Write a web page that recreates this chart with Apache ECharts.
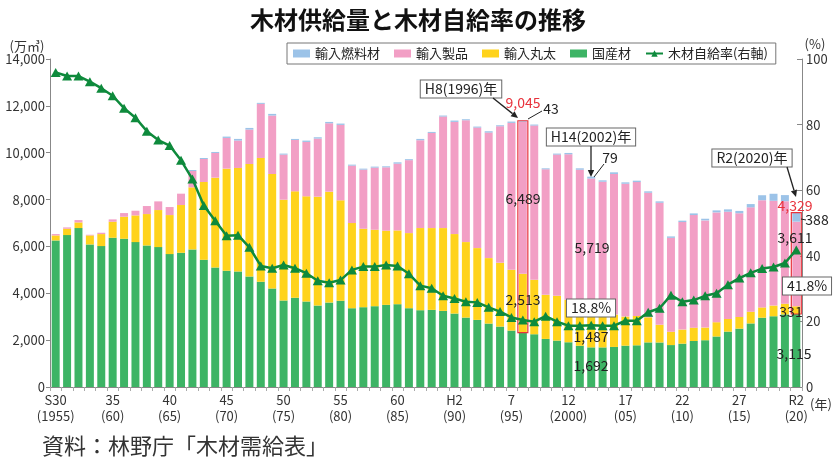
<!DOCTYPE html>
<html><head><meta charset="utf-8">
<script src="https://cdn.jsdelivr.net/npm/echarts@6/dist/echarts.min.js"></script>
<style>html,body{margin:0;padding:0;background:#fff}#c{width:836px;height:462px}</style>
</head><body><div id="c"></div>
<script>
// ---- data (万m3, %) ----
const years = [];
for (let y = 1955; y <= 2020; y++) years.push(String(y));

const domestic = [6256,6484,6783,6085,6014,6370,6327,6184,6042,5971,
  5672,5729,5871,5429,5102,4959,4931,4717,4489,4204,
  3691,3805,3648,3477,3605,3677,3363,3406,3449,3506,
  3534,3363,3278,3292,3249,3135,2964,2864,2708,2579,
  2408,2320,2252,2052,1981,1910,1760,1692,1690,1710,
  1765,1780,1904,1900,1790,1850,1964,1997,2156,2365,
  2492,2714,2958,3020,3099,3115];
const importLogs = [214,271,242,385,513,684,940,1140,1340,1582,
  1667,2038,2651,3320,3833,4361,4418,4802,5287,4888,
  4304,4546,4489,4646,4731,4289,3634,3349,3263,3164,
  3149,3206,3506,3491,3534,3392,3221,3064,2793,2722,
  2594,2513,2323,1881,1910,1810,1600,1487,1400,1380,
  1240,1250,1070,755,570,600,570,540,610,540,
  500,500,440,456,456,331];
const importProducts = [57,57,100,28,57,100,157,200,342,370,
  342,485,698,983,1054,1311,1169,1468,2309,2494,
  1924,2194,2323,2480,2921,3221,2451,2522,2651,2707,
  2850,3113,3748,4061,4760,4788,5201,5144,5358,5828,
  6270,6489,6584,5358,6028,6213,5914,5719,5671,6003,
  5670,5717,5317,5208,4007,4590,4806,4575,4687,4577,
  4424,4454,4573,4472,4376,3611];
const importFuel = [0,0,0,0,0,0,0,0,0,0,
  0,0,43,43,43,57,71,71,43,71,
  43,43,57,57,57,57,43,43,43,43,
  57,43,57,43,43,57,43,43,57,43,
  57,43,43,43,43,57,60,79,60,70,
  60,60,60,60,60,60,70,70,85,100,
  100,140,214,300,260,388];
const selfRate = [95.9,94.8,94.8,93.1,91.1,88.8,85.0,82.1,78.0,75.3,
  73.6,69.1,63.4,55.3,50.7,46.1,46.3,42.6,36.9,36.2,
  37.2,36.2,34.7,32.4,31.8,32.6,35.7,36.7,36.7,37.2,
  36.9,34.5,30.9,30.1,27.8,27.0,26.0,25.8,24.3,23.0,
  21.2,20.4,19.9,21.6,19.9,18.7,18.7,18.8,18.7,18.7,
  20.2,20.2,22.8,24.0,28.0,26.0,26.5,27.8,28.6,31.2,
  33.2,34.8,36.1,36.6,37.8,41.8];
const tickYears = ['1955','1960','1965','1970','1975','1980','1985','1990','1995','2000','2005','2010','2015','2020'];
const tickLabels = ['S30\n(1955)','35\n(60)','40\n(65)','45\n(70)','50\n(75)','55\n(80)','60\n(85)','H2\n(90)','7\n(95)','12\n(2000)','17\n(05)','22\n(10)','27\n(15)','R2\n(20)'];
const highlightYears = ['1996','2020'];

// ---- build ----
const labelMap = {};
tickYears.forEach((y, i) => labelMap[y] = tickLabels[i]);
const highlightData = highlightYears.map(y => {
  const i = years.indexOf(y);
  return [y, domestic[i], domestic[i] + importLogs[i] + importProducts[i] + importFuel[i]];
});

const FONT = '"Noto Sans CJK JP", "Noto Sans", sans-serif';
const C = {
  green: '#3db465', yellow: '#ffd31c', pink: '#f29fc5', blue: '#9cc3e8', line: '#0e8a3c', red: '#e8323c'
};

const chart = echarts.init(document.getElementById('c'), null, {renderer: 'canvas'});

function txt(x, y, s, opt) {
  return Object.assign({type: 'text', x: x, y: y, z: 100,
    style: Object.assign({text: s, fill: '#222', font: '14px ' + FONT, align: 'center', verticalAlign: 'middle'}, opt || {})});
}
function box(x, y, s, size) {
  return {type: 'text', x: x, y: y, z: 100,
    style: {text: s, fill: '#222', font: (size || 14) + 'px ' + FONT, align: 'center', verticalAlign: 'middle',
      backgroundColor: '#fff', borderColor: '#666', borderWidth: 1, padding: [2, 4, 1, 4]}};
}
function line(x1, y1, x2, y2, w) {
  return {type: 'line', z: 100, shape: {x1, y1, x2, y2}, style: {stroke: '#222', lineWidth: w || 1}};
}
function arrow(x1, y1, x2, y2) {
  const a = Math.atan2(y2 - y1, x2 - x1), L = 7, W = 3.2;
  const bx = x2 - L * Math.cos(a), by = y2 - L * Math.sin(a);
  const px = -Math.sin(a) * W, py = Math.cos(a) * W;
  return [line(x1, y1, bx, by, 1.3),
    {type: 'polygon', z: 100, shape: {points: [[x2, y2], [bx + px, by + py], [bx - px, by - py]]}, style: {fill: '#222'}}];
}

const graphics = [
  txt(27, 46, '(万㎥)', {font: '13px ' + FONT, fill: '#333'}),
  txt(815, 44, '(%)', {font: '13px ' + FONT, fill: '#333'}),
  txt(821, 404, '(年)', {font: '13px ' + FONT, fill: '#333'}),
  txt(42, 446, '資料：林野庁「木材需給表」', {font: '22px ' + FONT, fill: '#333', align: 'left'}),
  // H8
  box(461, 89, 'H8(1996)年'),
  ...arrow(493, 98, 518, 118),
  txt(523, 103, '9,045', {fill: C.red}),
  line(528, 119, 542, 111),
  txt(551, 109, '43'),
  txt(523, 199, '6,489'),
  txt(523, 300, '2,513'),
  // H14
  box(591, 137, 'H14(2002)年'),
  ...arrow(591, 146, 591, 177),
  line(594, 177, 604, 164),
  txt(610, 158, '79'),
  txt(592, 248, '5,719'),
  box(591, 308, '18.8%'),
  txt(591, 337, '1,487'),
  txt(591, 366, '1,692'),
  // R2
  box(752, 158, 'R2(2020)年'),
  ...arrow(787, 167, 796, 197),
  txt(795, 206, '4,329', {fill: C.red}),
  line(801, 219, 806, 220),
  txt(817, 220, '388'),
  txt(795, 238, '3,611'),
  box(807, 286, '41.8%'),
  txt(791, 312, '331'),
  txt(794, 354, '3,115')
];

const option = {
  animation: false,
  textStyle: {fontFamily: FONT},
  title: {text: '木材供給量と木材自給率の推移', left: 'center', top: 3,
    textStyle: {fontSize: 24, fontWeight: 'bold', color: '#111', fontFamily: FONT}},
  legend: {
    data: [
      {name: '輸入燃料材', icon: 'rect'},
      {name: '輸入製品', icon: 'rect'},
      {name: '輸入丸太', icon: 'rect'},
      {name: '国産材', icon: 'rect'},
      {name: '木材自給率(右軸)'}
    ],
    left: 287, top: 43, itemWidth: 17, itemHeight: 8, itemGap: 14,
    borderColor: '#777', borderWidth: 1, padding: [4, 8, 4, 6],
    textStyle: {fontSize: 13, color: '#222', fontFamily: FONT}
  },
  grid: {left: 50, right: 34, top: 59, bottom: 75, containLabel: false},
  xAxis: {
    type: 'category', data: years,
    axisLine: {lineStyle: {color: '#888'}},
    axisTick: {show: true, interval: 0, length: 4, lineStyle: {color: '#aaa'}},
    axisLabel: {interval: 0, formatter: v => labelMap[v] || '', fontSize: 13, lineHeight: 16, color: '#333', margin: 5}
  },
  yAxis: [
    {type: 'value', min: 0, max: 14000, interval: 2000,
      axisLine: {show: true, lineStyle: {color: '#888'}},
      axisTick: {show: true, length: 4, lineStyle: {color: '#888'}},
      splitLine: {show: false},
      axisLabel: {formatter: v => v.toLocaleString('en-US'), fontSize: 13, color: '#333', margin: 5}},
    {type: 'value', min: 0, max: 100, interval: 20, position: 'right',
      axisLine: {show: true, lineStyle: {color: '#888'}},
      axisTick: {show: true, inside: true, length: 5, lineStyle: {color: '#888'}},
      splitLine: {show: false},
      axisLabel: {fontSize: 13, color: '#333', margin: 4}}
  ],
  series: [
    {name: '国産材', type: 'bar', stack: 's', data: domestic, barWidth: '70%', itemStyle: {color: C.green}},
    {name: '輸入丸太', type: 'bar', stack: 's', data: importLogs, itemStyle: {color: C.yellow}},
    {name: '輸入製品', type: 'bar', stack: 's', data: importProducts, itemStyle: {color: C.pink}},
    {name: '輸入燃料材', type: 'bar', stack: 's', data: importFuel, itemStyle: {color: C.blue}},
    {name: 'highlight', type: 'custom', data: highlightData, encode: {x: 0, y: [1, 2]}, z: 3,
      renderItem: (params, api) => {
        const x = api.value(0);
        const top = api.coord([x, api.value(2)]);
        const bot = api.coord([x, api.value(1)]);
        const w = api.size([1, 0])[0] * 0.7 + 2;
        return {type: 'rect', shape: {x: top[0] - w / 2, y: top[1], width: w, height: bot[1] - top[1]},
          style: {fill: 'none', stroke: C.red, lineWidth: 1.2}};
      }},
    {name: '木材自給率(右軸)', type: 'line', yAxisIndex: 1, data: selfRate, z: 5,
      symbol: 'triangle', symbolSize: [10, 9], showAllSymbol: true,
      lineStyle: {color: C.line, width: 2.5}, itemStyle: {color: C.line}}
  ],
  graphic: graphics
};
chart.setOption(option);
</script>
</body></html>
